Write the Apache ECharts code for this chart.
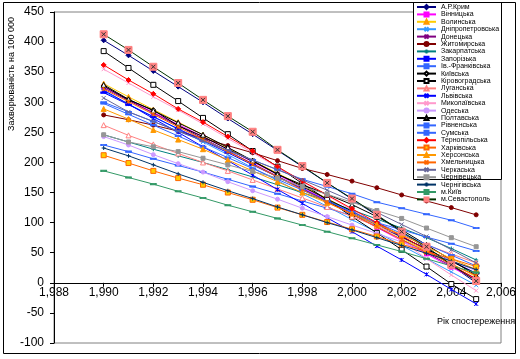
<!DOCTYPE html>
<html><head><meta charset="utf-8">
<script src="https://cdn.jsdelivr.net/npm/echarts@6/dist/echarts.min.js"></script>
<style>html,body{margin:0;padding:0;background:#fff}#c{width:520px;height:359px}</style>
</head><body><div id="c"></div>
<script>
const years = [1990,1991,1992,1993,1994,1995,1996,1997,1998,1999,2000,2001,2002,2003,2004,2005];
const xTicks = [1988,1990,1992,1994,1996,1998,2000,2002,2004,2006];
const yTicks = [-100,-50,0,50,100,150,200,250,300,350,400,450];

const crimea      = [403,378,352,326,300,273,247,220,193,166,139,112,84,57,29,0];
const vinnytsia   = [326,304,283,263,243,222,201,180,158,137,114,92,70,48,26,5];
const volyn       = [331,309,288,267,246,224,203,182,161,140,118,96,75,53,32,10];
const dnipro      = [318,297,276,255,234,213,191,170,148,127,105,84,62,40,18,-4];
const donetsk     = [324,303,282,261,240,219,198,177,156,135,114,93,72,50,28,7];
const zhytomyr    = [279,271,262,252,240,228,216,203,190,180,169,158,146,136,125,113];
const zakarpattia = [246,234,222,211,200,188,176,163,150,136,121,106,91,75,57,38];
const zaporizhia  = [316,296,276,256,236,216,196,176,156,136,116,96,76,56,36,16];
const ivfrank     = [229,218,206,195,184,172,160,148,136,124,112,100,88,76,65,53];
const kyivska     = [327,304,287,261,243,222,202,181,160,139,119,98,77,56,36,15];
const kirovohrad  = [385,357,329,302,274,247,219,193,165,138,110,83,55,27,-2,-27];
const luhansk     = [262,245,230,215,200,186,171,156,141,126,110,94,79,63,48,33];
const lviv        = [320,297,273,250,226,203,179,155,132,108,85,61,38,14,-11,-35];
const mykolaiv    = [355,332,309,287,264,240,216,192,168,145,121,97,70,40,13,-13];
const odesa       = [243,229,213,198,184,168,153,139,124,110,96,82,68,53,37,20];
const poltava     = [329,305,286,266,246,225,203,180,163,147,130,110,88,63,38,12];
const rivne       = [298,280,262,244,226,208,190,172,154,136,118,100,82,64,46,28];
const sumy        = [300,284,268,252,236,220,204,188,172,160,148,134,124,114,104,91];
const ternopil    = [362,337,314,289,267,243,219,193,169,146,123,100,78,55,30,6];
const kharkiv     = [212,199,186,174,163,150,138,125,113,101,89,77,64,52,40,27];
const kherson     = [289,272,254,238,222,204,186,168,150,133,115,97,80,60,40,22];
const khmelnytskyi= [322,301,280,259,238,218,197,176,155,134,114,93,72,52,31,12];
const cherkasy    = [307,284,268,252,236,220,204,188,171,154,136,117,97,77,55,33];
const chernivtsi  = [246,234,226,218,207,196,185,174,160,147,134,120,107,91,75,60];
const chernihiv   = [224,211,196,181,167,153,140,126,113,100,88,75,62,49,36,22];
const kyivCity    = [186,175,164,152,141,129,118,107,96,85,74,63,52,40,28,17];
const sevastopol  = [413,387,359,332,304,277,251,221,194,166,140,113,85,60,30,3];

const names = ['А.Р.Крим','Вінницька','Волинська','Дніпропетровська','Донецька','Житомирська','Закарпатська','Запорізька','Ів.-Франківська','Київська','Кіровоградська','Луганська','Львівська','Миколаївська','Одеська','Полтавська','Рівненська','Сумська','Тернопільська','Харківська','Херсонська','Хмельницька','Черкаська','Чернівецька','Чернігівська','м.Київ','м.Севастополь'];
const values = [crimea,vinnytsia,volyn,dnipro,donetsk,zhytomyr,zakarpattia,zaporizhia,ivfrank,kyivska,kirovohrad,luhansk,lviv,mykolaiv,odesa,poltava,rivne,sumy,ternopil,kharkiv,kherson,khmelnytskyi,cherkasy,chernivtsi,chernihiv,kyivCity,sevastopol];

const X = 'path://M0,0L10,10M10,0L0,10';
const PLUS = 'path://M5,0L5,10M0,5L10,5';
const STAR = 'path://M0,0L10,10M10,0L0,10M5,0L5,10';
// [lineColor, symbol, size, fill, border]
const styles = [
  ['#000080','diamond',5,'#000080','#000080'],
  ['#FF00FF','rect',4,'#FF00FF','#FF00FF'],
  ['#FFCC00','triangle',5,'#FFCC00','#FF9900'],
  ['#3399FF',X,4,'#3399FF','#3399FF'],
  ['#800080',STAR,4,'#800080','#800080'],
  ['#800000','circle',4,'#800000','#800000'],
  ['#008080',PLUS,4,'#008080','#008080'],
  ['#0000FF',[5,1.5],0,'#0000FF','#0000FF'],
  ['#3366FF',[5,1.5],0,'#3366FF','#3366FF'],
  ['#000000','diamond',5,'#FFFFFF','#000000'],
  ['#000000','rect',5,'#FFFFFF','#000000'],
  ['#FF8080','triangle',5,'#FFFFFF','#FF8080'],
  ['#0000FF',STAR,4,'#0000FF','#0000FF'],
  ['#FF99CC',X,4,'#FF99CC','#FF99CC'],
  ['#CC99FF','circle',4,'#CC99FF','#CC99FF'],
  ['#000000','triangle',5,'#FFFFFF','#000000'],
  ['#3366FF',[5,1.5],0,'#3366FF','#3366FF'],
  ['#3366FF',[5,1.5],0,'#3366FF','#3366FF'],
  ['#FF0000','diamond',5,'#FF0000','#FF0000'],
  ['#FF6600','rect',5,'#FFCC00','#FF6600'],
  ['#FF9900','triangle',5,'#FF9900','#FF9900'],
  ['#FF6600',STAR,4,'#FF6600','#FF6600'],
  ['#666699',X,4,'#666699','#666699'],
  ['#969696','rect',4,'#969696','#969696'],
  ['#003366',PLUS,4,'#003366','#003366'],
  ['#339966',[5,1.5],0,'#339966','#339966'],
  ['#003300','rect',7,'#FF8080','#FF8080']
];

const series = names.map((n,i)=>{
  const s = styles[i];
  const isDash = Array.isArray(s[1]);
  return {
    name:n, type:'line', data: years.map((y,k)=>[y,values[i][k]]),
    symbol: isDash ? 'rect' : s[1], symbolSize: isDash ? s[1] : s[2],
    lineStyle:{color:s[0],width:1},
    itemStyle:{color:s[3],borderColor:s[4],borderWidth:1},
    showSymbol:true, z:2+i*0.01
  };
});
series.push({
  name:'_sevx', type:'line', data: years.map((y,k)=>[y,sevastopol[k]]),
  symbol:X, symbolSize:4, lineStyle:{width:0,opacity:0},
  itemStyle:{color:'#333',borderColor:'#333',borderWidth:1}, z:3
});

const chart = echarts.init(document.getElementById('c'),null,{renderer:'canvas'});
const FONT = 'Liberation Sans, Arial, sans-serif';
const gridTop = 12, gridBottom = 16, plotH = 359 - gridTop - gridBottom;
const zeroOffset = plotH * (0 - (-100)) / (450 - (-100));
chart.setOption({
  animation:false,
  textStyle:{fontFamily:FONT},
  grid:{left:54,right:19,top:gridTop,bottom:gridBottom,show:true,borderColor:'#808080',borderWidth:1,backgroundColor:'#fff'},
  xAxis:{type:'value',min:1988,max:2006,interval:2,position:'bottom',offset:-zeroOffset,
    axisLine:{onZero:false,lineStyle:{color:'#000',width:1}},
    axisTick:{show:true,length:4,lineStyle:{color:'#000'}},
    axisLabel:{color:'#000',fontSize:12,margin:4,fontFamily:FONT},
    splitLine:{show:false}},
  yAxis:{type:'value',min:-100,max:450,interval:50,
    axisLine:{show:true,onZero:false,lineStyle:{color:'#000',width:1}},
    axisTick:{show:true,length:4,lineStyle:{color:'#000'}},
    axisLabel:{color:'#000',fontSize:12,margin:10,fontFamily:FONT},
    splitLine:{show:false}},
  legend:{orient:'vertical',left:416,top:3.5,padding:0,itemGap:0.4,itemWidth:19,itemHeight:5,
    data:names, textStyle:{fontSize:7,lineHeight:6.4,color:'#000',fontFamily:FONT},z:10},
  graphic:[
    {type:'rect',shape:{x:3.5,y:2.5,width:512,height:351},style:{fill:null,stroke:'#000',lineWidth:1},z:100,silent:true},
    {type:'rect',shape:{x:413.5,y:2.5,width:88,height:177},style:{fill:'#fff',stroke:'#000',lineWidth:1},z:5,silent:true},
    {type:'text',x:12,y:74,rotation:Math.PI/2,style:{text:'Захворюваність на 100 000',font:'9px '+FONT,fill:'#000',textAlign:'center',textVerticalAlign:'middle'},z:10},
    {type:'text',x:476,y:322,style:{text:'Рік спостереження',font:'9px '+FONT,fill:'#000',textAlign:'center',textVerticalAlign:'middle'},z:10}
  ],
  series:series
});
</script></body></html>
